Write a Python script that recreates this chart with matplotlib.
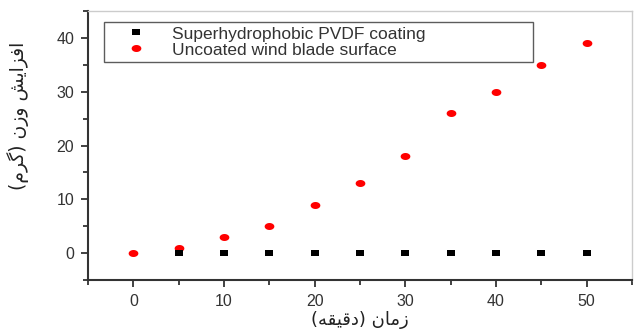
import matplotlib
matplotlib.use("Agg")
import matplotlib.pyplot as plt
import numpy as np
from matplotlib.ticker import MultipleLocator
from matplotlib.path import Path

# Data
time_uncoated = [0, 5, 10, 15, 20, 25, 30, 35, 40, 45, 50]
uncoated = [0, 1, 3, 5, 9, 13, 18, 26, 30, 35, 39]
time_coated = [5, 10, 15, 20, 25, 30, 35, 40, 45, 50]
coated = [0, 0, 0, 0, 0, 0, 0, 0, 0, 0]
series_labels = ["Superhydrophobic PVDF coating", "Uncoated wind blade surface"]
xticks = [0, 10, 20, 30, 40, 50]
yticks = [0, 10, 20, 30, 40]

# Persian labels (presentation forms in visual order)
xlabel = "(" + "\uFEEA\uFED8\uFBFF\uFED7\uFEA9" + ")" + " " + "\uFEE5\uFE8E\uFEE3\uFEAF"  # زمان (دقیقه)
ylabel = ("(" + "\uFEE1\uFEAE\uFB94" + ")" + " " + "\uFEE5\uFEAF\uFEED" + " "
          + "\uFEB6\uFBFE\uFE8D\uFEB0\uFED3\uFE8D")  # افزایش وزن (گرم)

# marker shapes (slightly wide, as in the reference)
th = np.linspace(0, 2 * np.pi, 40)
ellipse = Path(np.column_stack([np.cos(th), 0.72 * np.sin(th)]), closed=True)
rect = Path([(-1, -0.75), (1, -0.75), (1, 0.75), (-1, 0.75), (-1, -0.75)], closed=True)

plt.rcParams['font.family'] = ['Liberation Sans', 'DejaVu Sans']

fig = plt.figure(figsize=(6.35, 3.34), dpi=100)
ax = fig.add_axes([0.1386, 0.1617, 0.8567, 0.8053])

ax.plot(time_uncoated, uncoated, linestyle='none', marker=ellipse, markersize=7,
        color='#ff0000', markeredgewidth=0, label=series_labels[1], zorder=3)
ax.plot(time_coated, coated, linestyle='none', marker=rect, markersize=6.2,
        color='black', markeredgewidth=0, label=series_labels[0], zorder=4)

ax.set_xlim(-5, 55)
ax.set_ylim(-5, 45)
ax.set_xticks(xticks)
ax.set_yticks(yticks)
ax.xaxis.set_minor_locator(MultipleLocator(5))
ax.yaxis.set_minor_locator(MultipleLocator(5))

for s in ['left', 'bottom']:
    ax.spines[s].set_color('#333333')
    ax.spines[s].set_linewidth(1.5)
for s in ['top', 'right']:
    ax.spines[s].set_color('#cccccc')
    ax.spines[s].set_linewidth(1.0)

ax.tick_params(which='major', direction='out', length=5, width=1.3,
               color='#333333', labelsize=11.5, labelcolor='#333333', pad=5)
ax.tick_params(which='minor', direction='out', length=3.5, width=1.3, color='#333333')
ax.tick_params(axis='both', which='both', top=False, right=False)

ax.set_xlabel(xlabel, fontsize=13, family=['DejaVu Sans'], color='#222222')
ax.xaxis.set_label_coords(0.5, -0.115)
ax.set_ylabel(ylabel, fontsize=13.5, family=['DejaVu Sans'], color='#222222')
ax.yaxis.set_label_coords(-0.108, 0.61)

handles, labels = ax.get_legend_handles_labels()
leg = ax.legend(handles[::-1], labels[::-1], loc='upper left',
                bbox_to_anchor=(0.0294, 0.803, 0.789, 0.156), mode='expand',
                frameon=True, fancybox=False, edgecolor='#333333', fontsize=12.5,
                borderpad=0.25, labelspacing=0.05, handletextpad=0.48,
                handlelength=3.18, borderaxespad=0, markerscale=1.0)
leg.get_frame().set_linewidth(1.0)
for t in leg.get_texts():
    t.set_color('#333333')

fig.savefig("out.png", dpi=100)
